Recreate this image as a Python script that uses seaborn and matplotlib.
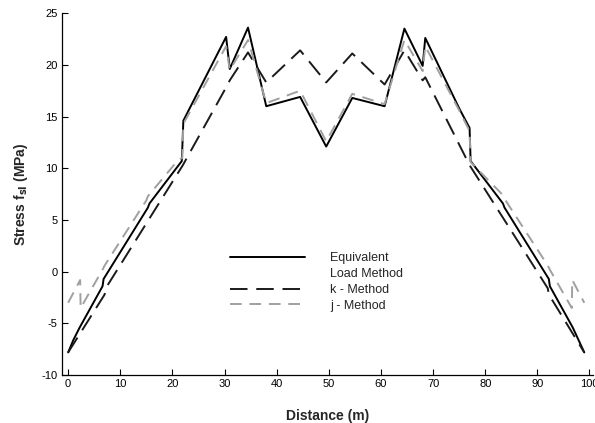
import numpy as np
import pandas as pd
import matplotlib
matplotlib.use("Agg")
import matplotlib.pyplot as plt
from matplotlib.lines import Line2D
import seaborn as sns

# ---- data ----
eq_x = [0, 1.0, 2.2, 6.6, 6.8, 15.3, 15.6, 21.8, 22.1, 30.3, 31.0, 34.5, 38.0, 44.5,
        49.5, 54.5, 60.7, 64.5, 68.0, 68.5, 75.0, 77.0, 77.2, 83.4, 83.7, 92.2, 92.4, 96.8, 99.0]
eq_y = [-7.8, -6.6, -5.4, -1.4, -0.7, 6.2, 6.6, 10.7, 14.6, 22.7, 19.6, 23.6, 16.0, 16.9,
        12.1, 16.8, 16.0, 23.5, 19.9, 22.6, 15.8, 13.9, 10.7, 6.6, 6.2, -0.7, -1.4, -5.4, -7.8]

k_x = [0, 7.0, 7.2, 22.0, 30.5, 31.0, 34.5, 38.0, 44.5, 49.5, 54.5, 60.7, 64.5, 68.0, 68.5,
       77.0, 92.0, 92.2, 99.0]
k_y = [-7.8, -2.2, -1.6, 10.3, 18.0, 18.5, 21.2, 18.3, 21.4, 18.3, 21.1, 18.1, 21.4, 18.5, 18.8,
       10.3, -1.6, -2.2, -7.8]

j_x = [0, 2.3, 2.4, 6.6, 7.0, 15.0, 15.3, 21.1, 21.9, 22.1, 30.3, 31.0, 34.5, 38.0, 44.5,
       49.5, 54.5, 60.7, 64.5, 68.0, 68.5, 75.0, 77.0, 77.2, 83.6, 83.9, 92.0, 92.4, 96.6, 96.7, 99.0]
j_y = [-3.0, -0.8, -3.5, 0.2, 0.6, 6.9, 7.3, 10.8, 11.0, 14.3, 21.8, 19.5, 22.4, 16.3, 17.5,
       12.6, 17.2, 16.2, 22.4, 19.4, 21.8, 15.6, 13.6, 10.6, 7.3, 6.9, 0.6, 0.2, -3.5, -0.8, -3.0]

labels = ["Equivalent", "Load Method", "k - Method", "j - Method"]

x_ticks = list(range(0, 101, 10))
y_ticks = list(range(-10, 26, 5))

# ---- figure ----
sns.set_theme(style="ticks")
plt.rcParams["font.family"] = ["Liberation Sans", "DejaVu Sans"]
plt.rcParams["axes.unicode_minus"] = False

fig = plt.figure(figsize=(5.95, 4.23), dpi=100)
ax = fig.add_axes([0.104, 0.113, 0.892, 0.856])

df_eq = pd.DataFrame({"x": eq_x, "y": eq_y})
df_k = pd.DataFrame({"x": k_x, "y": k_y})
df_j = pd.DataFrame({"x": j_x, "y": j_y})

sns.lineplot(data=df_eq, x="x", y="y", sort=False, ax=ax, color="black", lw=1.4,
             estimator=None, legend=False)
sns.lineplot(data=df_k, x="x", y="y", sort=False, ax=ax, color="#1a1a1a", lw=1.4,
             estimator=None, legend=False)
sns.lineplot(data=df_j, x="x", y="y", sort=False, ax=ax, color="#a0a0a0", lw=1.4,
             estimator=None, legend=False)
lines = ax.get_lines()
lines[1].set_dashes((9, 4.5))
lines[2].set_dashes((6, 4))

ax.set_xlim(-1.2, 100.6)
ax.set_ylim(-10, 25)
ax.set_xticks(x_ticks)
ax.set_yticks(y_ticks)
ax.tick_params(direction="in", length=4, width=0.8, labelsize=8, colors="black", pad=3)
for s in ["top", "right"]:
    ax.spines[s].set_visible(False)
for s in ["left", "bottom"]:
    ax.spines[s].set_linewidth(0.9)
    ax.spines[s].set_color("black")

ax.set_xlabel("Distance (m)", fontsize=10, fontweight="bold", labelpad=14)
ax.set_ylabel("Stress f$_{\\mathbf{sl}}$ (MPa)", fontsize=10, fontweight="bold", labelpad=8)

handles = [lines[0], Line2D([], [], color="none"), lines[1], lines[2]]
leg = ax.legend(handles=handles, labels=labels, loc="upper left",
                bbox_to_anchor=(0.296, 0.37), frameon=False, fontsize=9,
                handlelength=6.0, handletextpad=2.0, labelspacing=0.3)

fig.savefig("out.png", dpi=100)
